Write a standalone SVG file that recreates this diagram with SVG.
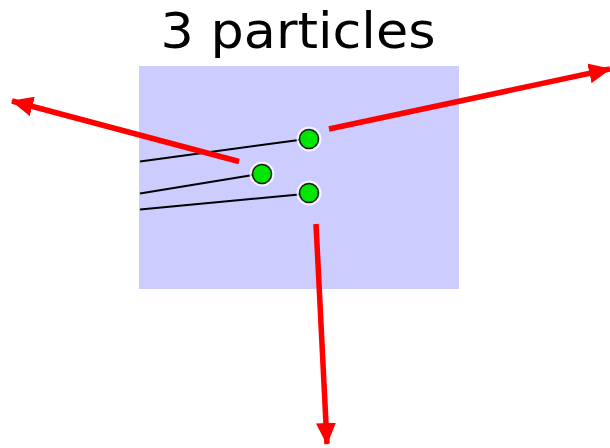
<svg xmlns="http://www.w3.org/2000/svg" width="610" height="448" viewBox="0 0 610 448">
<style>
.title{font-family:"DejaVu Sans",sans-serif;font-size:50px;fill:#000}
.trk{stroke:#000;stroke-width:2;fill:none}
.p{fill:#00e600;stroke:#1a1a1a;stroke-width:1.5}
.halo{fill:none;stroke:#fff;stroke-width:2;opacity:0.8}
.red{stroke:#ff0000;stroke-width:5.5;fill:none}
</style>
<defs>
<marker id="ah" markerUnits="userSpaceOnUse" markerWidth="22" markerHeight="20" viewBox="0 0 22 20" refX="21" refY="10" orient="auto">
<path d="M0,0 L22,10 L0,20 Z" fill="#ff0000"/>
</marker>
</defs>
<rect x="139" y="66" width="320" height="223" fill="#ccccff"/>
<text class="title" x="298" y="48" text-anchor="middle" textLength="275" lengthAdjust="spacingAndGlyphs">3 particles</text>
<g id="connectors">
<line class="trk" x1="140" y1="161.5" x2="299" y2="140"/>
<line class="trk" x1="140" y1="193.5" x2="253" y2="175"/>
<line class="trk" x1="140" y1="209.5" x2="299" y2="194.5"/>
<line class="red" x1="239" y1="161.5" x2="12" y2="101" marker-end="url(#ah)"/>
<line class="red" x1="329" y1="129" x2="610" y2="69" marker-end="url(#ah)"/>
<line class="red" x1="316" y1="224" x2="327" y2="444" marker-end="url(#ah)"/>
</g>
<g id="p1"><circle class="halo" cx="309" cy="139" r="11.5"/><circle class="p" cx="309" cy="139" r="9.5"/></g>
<g id="p2"><circle class="halo" cx="262" cy="174" r="11.5"/><circle class="p" cx="262" cy="174" r="9.5"/></g>
<g id="p3"><circle class="halo" cx="309" cy="193" r="11.5"/><circle class="p" cx="309" cy="193" r="9.5"/></g>
</svg>
